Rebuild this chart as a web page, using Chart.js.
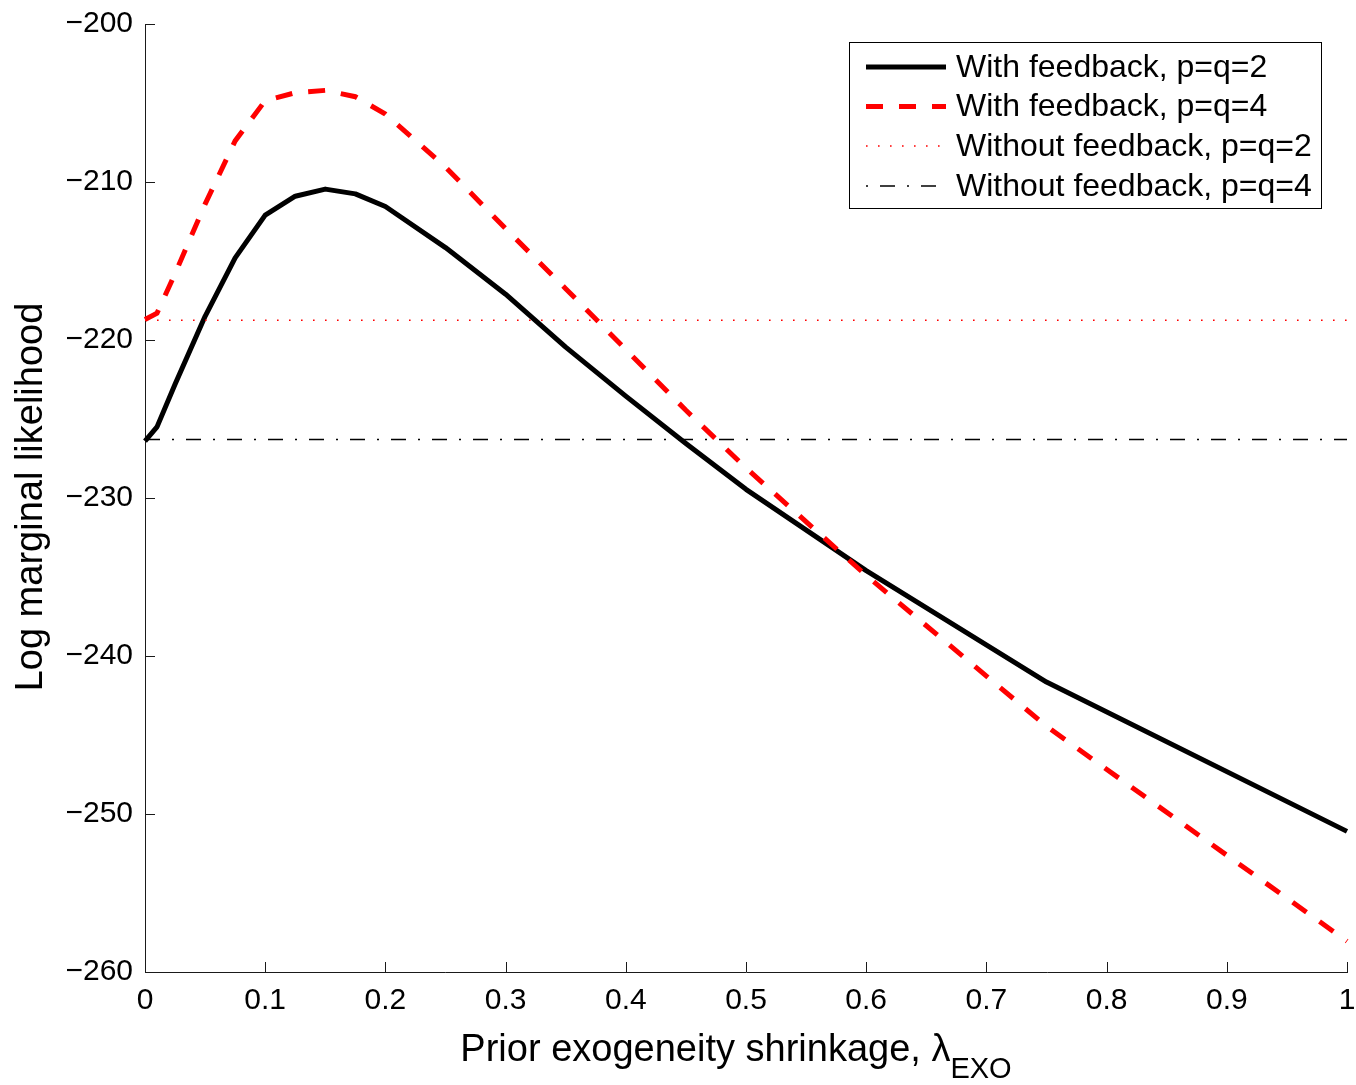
<!DOCTYPE html>
<html>
<head>
<meta charset="utf-8">
<title>Log marginal likelihood vs prior exogeneity shrinkage</title>
<script src="https://cdn.jsdelivr.net/npm/chart.js@4.4.1/dist/chart.umd.min.js"></script>
<style>
  html, body { margin: 0; padding: 0; background: #fff; }
  #wrap { width: 1356px; height: 1085px; }
</style>
</head>
<body>
<div id="wrap"><canvas id="lml-chart" width="1356" height="1085"></canvas></div>
<script>
// Grid of lambda_EXO values where the marginal likelihood was evaluated
const lambdaGrid = [0, 0.01, 0.025, 0.05, 0.075, 0.1, 0.125, 0.15, 0.175, 0.2,
                    0.25, 0.3, 0.35, 0.4, 0.45, 0.5, 0.6, 0.75, 1];

// Log marginal likelihood, models with feedback
const withFeedbackP2 = [-226.4, -225.5, -222.8, -218.5, -214.8, -212.1, -210.9, -210.45, -210.75, -211.55,
                        -214.15, -217.1, -220.45, -223.55, -226.55, -229.45, -234.6, -241.65, -251.1];
const withFeedbackP4 = [-218.7, -218.3, -215.8, -211.4, -207.4, -204.85, -204.35, -204.2, -204.6, -205.7,
                        -209.05, -212.95, -216.75, -220.6, -224.45, -228.1, -234.9, -244.45, -258.05];

// Models without feedback do not depend on lambda
const withoutFeedbackP2 = -218.75;
const withoutFeedbackP4 = -226.3;

const seriesLabels = [
  'With feedback, p=q=2',
  'With feedback, p=q=4',
  'Without feedback, p=q=2',
  'Without feedback, p=q=4'
];

const xTickValues = [0, 0.1, 0.2, 0.3, 0.4, 0.5, 0.6, 0.7, 0.8, 0.9, 1];
const xTickLabels = ['0', '0.1', '0.2', '0.3', '0.4', '0.5', '0.6', '0.7', '0.8', '0.9', '1'];
const yTickValues = [-260, -250, -240, -230, -220, -210, -200];
const yTickLabels = ['\u2212260', '\u2212250', '\u2212240', '\u2212230', '\u2212220', '\u2212210', '\u2212200'];

const FONT_FAMILY = "'Liberation Sans', Arial, Helvetica, sans-serif";
const AXIS_COLOR = '#1a1a1a';

Chart.defaults.font.family = FONT_FAMILY;
Chart.defaults.color = '#000';

// helper: series over the whole lambda grid
function toPoints(values) {
  return lambdaGrid.map((x, i) => ({ x: x, y: values[i] }));
}

// helper: flat line spanning the lambda range
function flatLine(value) {
  return [
    { x: lambdaGrid[0], y: value },
    { x: lambdaGrid[lambdaGrid.length - 1], y: value }
  ];
}

// Tick marks pointing into the plot area (no box on top/right)
const inwardTicks = {
  id: 'inwardTicks',
  afterDraw(chart) {
    const { ctx, chartArea, scales } = chart;
    const len = 10;
    ctx.save();
    ctx.strokeStyle = AXIS_COLOR;
    ctx.lineWidth = 1;
    ctx.beginPath();
    yTickValues.forEach(v => {
      const py = Math.round(scales.y.getPixelForValue(v)) + 0.5;
      ctx.moveTo(chartArea.left, py);
      ctx.lineTo(chartArea.left + len, py);
    });
    xTickValues.forEach(v => {
      const px = Math.round(scales.x.getPixelForValue(v)) + 0.5;
      ctx.moveTo(px, chartArea.bottom);
      ctx.lineTo(px, chartArea.bottom - len);
    });
    ctx.stroke();
    ctx.restore();
  }
};

// Axis titles; the x title carries a subscript, so both are drawn by hand
const axisTitles = {
  id: 'axisTitles',
  afterDraw(chart) {
    const { ctx } = chart;
    ctx.save();
    ctx.fillStyle = '#000';

    // y title, rotated
    ctx.font = `38px ${FONT_FAMILY}`;
    ctx.translate(42, 497);
    ctx.rotate(-Math.PI / 2);
    ctx.textAlign = 'center';
    ctx.textBaseline = 'alphabetic';
    ctx.fillText('Log marginal likelihood', 0, 0);
    ctx.setTransform(1, 0, 0, 1, 0, 0);

    // x title with subscript
    const mainText = 'Prior exogeneity shrinkage, \u03bb';
    const subText = 'EXO';
    ctx.font = `38px ${FONT_FAMILY}`;
    const wMain = ctx.measureText(mainText).width;
    ctx.font = `29px ${FONT_FAMILY}`;
    const wSub = ctx.measureText(subText).width;
    const startX = 736 - (wMain + wSub) / 2;
    ctx.textAlign = 'left';
    ctx.font = `38px ${FONT_FAMILY}`;
    ctx.fillText(mainText, startX, 1061);
    ctx.font = `29px ${FONT_FAMILY}`;
    ctx.fillText(subText, startX + wMain, 1078);
    ctx.restore();
  }
};

// Boxed legend in the upper right, samples drawn with each dataset's own style
const legendBox = {
  id: 'legendBox',
  afterDraw(chart) {
    const { ctx } = chart;
    const box = { x: 849.5, y: 42.5, w: 472, h: 166 };
    const rowY = [67, 106.5, 146, 186];
    const sampleX0 = 866, sampleX1 = 946, textX = 956;

    ctx.save();
    ctx.fillStyle = '#fff';
    ctx.fillRect(box.x, box.y, box.w, box.h);
    ctx.strokeStyle = '#000';
    ctx.lineWidth = 1;
    ctx.setLineDash([]);
    ctx.strokeRect(box.x, box.y, box.w, box.h);

    chart.data.datasets.forEach((ds, i) => {
      const y = rowY[i];
      ctx.save();
      ctx.strokeStyle = ds.borderColor;
      ctx.lineWidth = ds.borderWidth;
      ctx.setLineDash(ds.borderDash || []);
      ctx.lineDashOffset = ds.legendDashOffset || 0;
      ctx.lineCap = 'butt';
      ctx.beginPath();
      ctx.moveTo(sampleX0, y);
      ctx.lineTo(sampleX1, y);
      ctx.stroke();
      ctx.restore();

      ctx.fillStyle = '#000';
      ctx.font = `32px ${FONT_FAMILY}`;
      ctx.textAlign = 'left';
      ctx.textBaseline = 'middle';
      ctx.fillText(ds.label, textX, y + 1);
    });
    ctx.restore();
  }
};

const canvas = document.getElementById('lml-chart');

new Chart(canvas, {
  type: 'line',
  data: {
    datasets: [
      {
        label: seriesLabels[0],
        data: toPoints(withFeedbackP2),
        borderColor: '#000000',
        borderWidth: 5,
        borderJoinStyle: 'round',
        pointRadius: 0,
        clip: 6,
        order: 4
      },
      {
        label: seriesLabels[1],
        data: toPoints(withFeedbackP4),
        borderColor: '#ff0000',
        borderWidth: 5,
        borderDash: [17, 16],
        pointRadius: 0,
        clip: 6,
        order: 3
      },
      {
        label: seriesLabels[2],
        data: flatLine(withoutFeedbackP2),
        borderColor: '#ff0000',
        borderWidth: 1.3,
        borderDash: [1.6, 10.4],
        pointRadius: 0,
        order: 2
      },
      {
        label: seriesLabels[3],
        data: flatLine(withoutFeedbackP4),
        borderColor: '#000000',
        borderWidth: 1.6,
        borderDash: [15, 12, 2, 12],
        legendDashOffset: 27,
        pointRadius: 0,
        order: 1
      }
    ]
  },
  options: {
    responsive: false,
    animation: false,
    layout: { padding: { top: 24, right: 9, left: 0, bottom: 0 } },
    plugins: {
      legend: { display: false },
      tooltip: { enabled: false }
    },
    scales: {
      x: {
        type: 'linear',
        min: 0,
        max: 1,
        afterBuildTicks: scale => { scale.ticks = xTickValues.map(v => ({ value: v })); },
        afterFit: scale => {
          scale.height = 113;
          // edge labels may overhang; the layout padding already leaves room
          scale.paddingLeft = 0;
          scale.paddingRight = 0;
        },
        grid: { display: true, drawOnChartArea: false, drawTicks: false },
        border: { display: true, color: AXIS_COLOR, width: 1 },
        ticks: {
          padding: 11,
          autoSkip: false,
          maxRotation: 0,
          color: '#000',
          font: { size: 30 },
          callback: (value, index) => xTickLabels[index]
        }
      },
      y: {
        type: 'linear',
        min: -260,
        max: -200,
        afterBuildTicks: scale => { scale.ticks = yTickValues.map(v => ({ value: v })); },
        afterFit: scale => {
          scale.width = 145;
          scale.paddingTop = 0;
          scale.paddingBottom = 0;
        },
        grid: { display: true, drawOnChartArea: false, drawTicks: false },
        border: { display: true, color: AXIS_COLOR, width: 1 },
        ticks: {
          padding: 12,
          autoSkip: false,
          color: '#000',
          font: { size: 30 },
          callback: (value, index) => yTickLabels[index]
        }
      }
    }
  },
  plugins: [inwardTicks, axisTitles, legendBox]
});
</script>
</body>
</html>
